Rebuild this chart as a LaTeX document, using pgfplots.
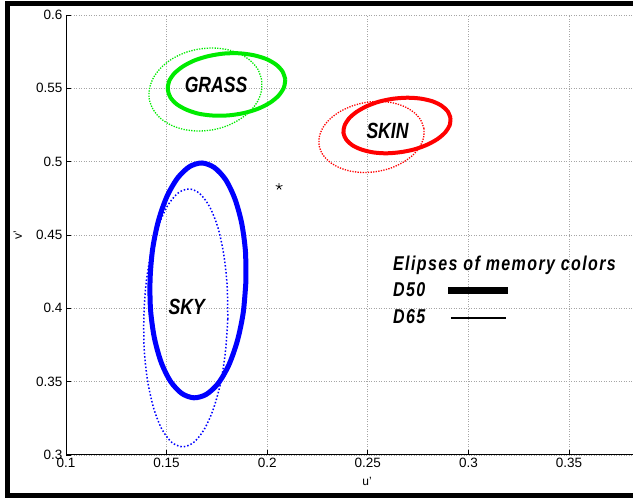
\documentclass[border=0pt]{standalone}
\usepackage{pgfplots}
\pgfplotsset{compat=1.18}
\usepackage{fontspec}
\setmainfont{Liberation Sans}
\newfontfamily\labfont[FakeStretch=0.8]{Liberation Sans}
\newfontfamily\legfont[FakeStretch=0.8,LetterSpace=7]{Liberation Sans}
\definecolor{cgreen}{RGB}{0,235,0}
\definecolor{cred}{RGB}{255,0,0}
\definecolor{cblue}{RGB}{0,0,255}
\begin{document}
\begin{tikzpicture}
\useasboundingbox (0,0) rectangle (633pt,498pt);
\draw[line width=5pt, black] (640pt,494.5pt) -- (7pt,494.5pt) -- (7pt,2.5pt) -- (640pt,2.5pt);
\begin{axis}[
  at={(66pt,43pt)}, anchor=south west,
  scale only axis, width=567pt, height=440pt,
  xmin=0.1, xmax=0.3818, ymin=0.3, ymax=0.6,
  xtick={0.1,0.15,0.2,0.25,0.3,0.35},
  ytick={0.3,0.35,0.4,0.45,0.5,0.55,0.6},
  axis lines*=left,
  axis line style={black, line width=1pt},
  tick align=inside, major tick length=5pt,
  tick style={black, line width=0.8pt},
  grid=major,
  grid style={gray!70, line width=0.8pt, dash pattern=on 1pt off 1.5pt},
  /pgf/number format/assume math mode=true,
  /pgf/number format/.cd, fixed, precision=2, /pgfplots/.cd,
  ticklabel style={font=\fontsize{13.5}{13.5}\selectfont},
  every axis x label/.style={at={(axis description cs:0.531,-0.059)}, anchor=center},
  every axis y label/.style={at={(axis description cs:-0.085,0.5)}, rotate=90, anchor=center},
  label style={font=\fontsize{12}{12}\selectfont},
  xlabel={u'}, ylabel={v'},
  clip=false,
]
% GRASS D65
\addplot[cgreen, line width=1.3pt, dash pattern=on 1.3pt off 1.3pt, smooth] coordinates {
(0.1972,0.5560) (0.1954,0.5629) (0.1917,0.5688) (0.1866,0.5734) (0.1802,0.5764) (0.1731,0.5775)
(0.1658,0.5767) (0.1587,0.5741) (0.1523,0.5697) (0.1471,0.5639) (0.1434,0.5571) (0.1415,0.5498)
(0.1414,0.5425) (0.1433,0.5356) (0.1469,0.5296) (0.1521,0.5250) (0.1584,0.5220) (0.1655,0.5209)
(0.1729,0.5217) (0.1800,0.5244) (0.1863,0.5288) (0.1916,0.5345) (0.1953,0.5413) (0.1972,0.5486)
(0.1972,0.5560)};
% GRASS D50
\addplot[cgreen, line width=4pt, smooth] coordinates {
(0.2090,0.5561) (0.2076,0.5615) (0.2044,0.5662) (0.1995,0.5700) (0.1932,0.5726) (0.1860,0.5739)
(0.1784,0.5737) (0.1709,0.5720) (0.1640,0.5691) (0.1582,0.5650) (0.1538,0.5601) (0.1512,0.5547)
(0.1506,0.5491) (0.1519,0.5438) (0.1551,0.5391) (0.1601,0.5353) (0.1663,0.5326) (0.1735,0.5314)
(0.1811,0.5316) (0.1886,0.5332) (0.1955,0.5361) (0.2014,0.5402) (0.2057,0.5451) (0.2083,0.5506)
(0.2090,0.5561)};
% SKIN D65
\addplot[cred, line width=1.3pt, dash pattern=on 1.3pt off 1.3pt, smooth] coordinates {
(0.2779,0.5225) (0.2763,0.5284) (0.2730,0.5335) (0.2683,0.5375) (0.2625,0.5401) (0.2559,0.5411)
(0.2491,0.5404) (0.2425,0.5381) (0.2365,0.5344) (0.2315,0.5295) (0.2279,0.5237) (0.2260,0.5175)
(0.2258,0.5112) (0.2274,0.5053) (0.2307,0.5002) (0.2354,0.4962) (0.2412,0.4936) (0.2477,0.4926)
(0.2546,0.4933) (0.2612,0.4955) (0.2672,0.4993) (0.2722,0.5042) (0.2757,0.5099) (0.2777,0.5162)
(0.2779,0.5225)};
% SKIN D50
\addplot[cred, line width=4pt, smooth] coordinates {
(0.2911,0.5298) (0.2897,0.5343) (0.2866,0.5382) (0.2820,0.5412) (0.2762,0.5430) (0.2696,0.5436)
(0.2626,0.5429) (0.2558,0.5410) (0.2496,0.5379) (0.2444,0.5339) (0.2406,0.5294) (0.2384,0.5244)
(0.2379,0.5196) (0.2393,0.5150) (0.2424,0.5111) (0.2470,0.5082) (0.2528,0.5063) (0.2594,0.5057)
(0.2664,0.5065) (0.2732,0.5084) (0.2794,0.5115) (0.2846,0.5154) (0.2885,0.5200) (0.2907,0.5249)
(0.2911,0.5298)};
% SKY D65
\addplot[cblue, line width=1.5pt, dash pattern=on 1.5pt off 2pt, smooth] coordinates {
(0.1804,0.3927) (0.1801,0.4155) (0.1784,0.4368) (0.1755,0.4551) (0.1714,0.4692) (0.1665,0.4782)
(0.1612,0.4814) (0.1557,0.4786) (0.1505,0.4700) (0.1459,0.4561) (0.1423,0.4381) (0.1398,0.4169)
(0.1387,0.3942) (0.1389,0.3714) (0.1406,0.3502) (0.1436,0.3318) (0.1476,0.3177) (0.1525,0.3087)
(0.1578,0.3056) (0.1633,0.3084) (0.1685,0.3170) (0.1731,0.3308) (0.1768,0.3489) (0.1792,0.3700)
(0.1804,0.3927)};
% SKY D50
\addplot[cblue, line width=5pt, smooth] coordinates {
(0.1894,0.4179) (0.1892,0.4386) (0.1873,0.4581) (0.1839,0.4748) (0.1793,0.4878) (0.1737,0.4960)
(0.1676,0.4991) (0.1614,0.4966) (0.1555,0.4889) (0.1502,0.4764) (0.1460,0.4600) (0.1431,0.4408)
(0.1418,0.4202) (0.1420,0.3994) (0.1439,0.3800) (0.1473,0.3632) (0.1519,0.3503) (0.1575,0.3420)
(0.1636,0.3390) (0.1698,0.3414) (0.1758,0.3491) (0.1810,0.3616) (0.1852,0.3780) (0.1881,0.3972)
(0.1894,0.4179)};
% white point
\addplot[only marks, mark=star, mark size=3.5pt, black, line width=0.8pt] coordinates {(0.2059,0.4830)};
% labels
\node[font=\labfont\bfseries\itshape\fontsize{22}{22}\selectfont] at (axis cs:0.1746,0.5523) {GRASS};
\node[font=\labfont\bfseries\itshape\fontsize{22}{22}\selectfont] at (axis cs:0.2598,0.5209) {SKIN};
\node[font=\labfont\bfseries\itshape\fontsize{22}{22}\selectfont] at (axis cs:0.1600,0.4012) {SKY};
% legend
\node[anchor=base west, inner sep=0pt, font=\legfont\bfseries\itshape\fontsize{20}{20}\selectfont] at (axis cs:0.2625,0.4255) {Elipses of memory colors};
\node[anchor=base west, inner sep=0pt, font=\legfont\bfseries\itshape\fontsize{20}{20}\selectfont] at (axis cs:0.2625,0.4080) {D50};
\node[anchor=base west, inner sep=0pt, font=\legfont\bfseries\itshape\fontsize{20}{20}\selectfont] at (axis cs:0.2625,0.3894) {D65};
\draw[black, line width=7pt] (axis cs:0.2899,0.4119) -- (axis cs:0.3197,0.4119);
\draw[black, line width=2pt] (axis cs:0.2913,0.3937) -- (axis cs:0.3187,0.3937);
\end{axis}
\end{tikzpicture}
\end{document}
